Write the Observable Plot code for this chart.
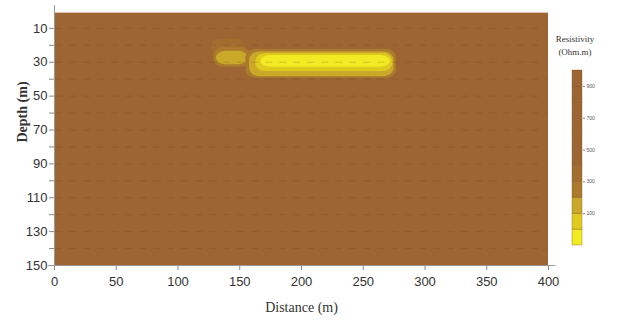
<!DOCTYPE html>
<html>
<head>
<meta charset="utf-8">
<script src="https://cdn.jsdelivr.net/npm/d3@7"></script>
<script src="https://cdn.jsdelivr.net/npm/@observablehq/plot@0.6"></script>
<style>
  html, body { margin: 0; padding: 0; background: #fff; }
  #wrap { position: relative; width: 625px; height: 324px; overflow: hidden; }
  #legend { position: absolute; left: 545px; top: 0; }
  .lt { position: absolute; font-family: "Liberation Serif", "DejaVu Serif", serif; font-size: 9px; color: #333; text-align: center; width: 60px; }
  #main svg g[aria-label$="axis tick label"] text { font-stretch: condensed; }
</style>
</head>
<body>
<div id="wrap">
  <div id="main"></div>
  <div id="legend"></div>
  <div class="lt" style="left:545px; top:34px;">Resistivity</div>
  <div class="lt" style="left:545px; top:47px;">(Ohm.m)</div>
</div>
<script>
// ---- data ----
const distanceTicks = [0, 50, 100, 150, 200, 250, 300, 350, 400];
const depthTicks = [10, 30, 50, 70, 90, 110, 130, 150];
const depthMinorTicks = [20, 40, 60, 80, 100, 120, 140];
const contourRowDepths = [10, 20, 30, 40, 50, 60, 70, 80, 90, 100, 110, 120, 130, 140];

// background section
const sectionFrom = 0, sectionTo = 400, sectionTop = 1, sectionBottom = 150, sectionResistivity = 1000;

// low-resistivity bodies (outer to inner): small western body, then main body
const bodyDistFrom   = [127, 129, 131, 155, 158, 163, 167];
const bodyDistTo     = [155, 159, 157, 277, 275, 274, 272];
const bodyDepthTop   = [16.5, 21.5, 23.5, 22.5, 24, 25, 26];
const bodyDepthBot   = [26, 33, 31.5, 39.5, 38.5, 35.5, 33];
const bodyResistivity= [350, 250, 150, 250, 150, 50, -50];

// legend
const legendBandLow = [-100, 0, 100, 200, 300, 400, 500, 600, 700, 800, 900];
const legendTicks = [100, 300, 500, 700, 900];
const colorThresholds = [0, 100, 200, 300, 400];
const colorRange = ["#f2ea22", "#dfcb1f", "#c9a82a", "#ab7a2d", "#a36d30", "#9d6532"];

// ---- build tables ----
const bodies = bodyDistFrom.map((d, i) => ({
  x1: d, x2: bodyDistTo[i], y1: bodyDepthTop[i], y2: bodyDepthBot[i], r: bodyResistivity[i]
}));
const section = [{x1: sectionFrom, x2: sectionTo, y1: sectionTop, y2: sectionBottom, r: sectionResistivity}];
const bands = legendBandLow.map(lo => ({lo, hi: lo + 100, mid: lo + 50}));

const colorScale = {type: "threshold", domain: colorThresholds, range: colorRange};
const tickFont = "'Liberation Sans Narrow', 'Liberation Sans', 'DejaVu Sans', sans-serif";
const serif = "'Liberation Serif', 'DejaVu Serif', serif";

const main = Plot.plot({
  width: 625, height: 324,
  marginLeft: 54, marginRight: 77, marginTop: 5, marginBottom: 59,
  x: {domain: [0, 400]},
  y: {domain: [-3.5, 150], reverse: true},
  color: colorScale,
  style: {fontFamily: tickFont, fontSize: "13px", background: "transparent", overflow: "visible"},
  marks: [
    Plot.rect(section, {x1: "x1", x2: "x2", y1: "y1", y2: "y2", fill: "r"}),
    Plot.rect(bodies, {x1: "x1", x2: "x2", y1: "y1", y2: "y2", fill: "r", rx: 10, ry: 8}),
    Plot.ruleY(contourRowDepths, {x1: 1, x2: 399, stroke: "#6e4018", strokeOpacity: 0.22, strokeDasharray: "7,7"}),
    Plot.axisX(distanceTicks, {tickSize: 5, tickPadding: 6, label: null, stroke: "#888", fill: "#333"}),
    Plot.axisY(depthTicks, {tickSize: 5, tickPadding: 2, label: null, stroke: "#888", fill: "#333"}),
    Plot.axisY(depthMinorTicks, {tickSize: 5, tickFormat: () => "", label: null, stroke: "#888"}),
    Plot.ruleX([0], {y1: -3.5, y2: 150, stroke: "#999"}),
    Plot.ruleY([150], {x1: -5, x2: 406, stroke: "#999"}),
    Plot.text(["Distance (m)"], {frameAnchor: "bottom", dy: 46, text: d => d, fontFamily: serif, fontSize: 14, fill: "#333"}),
    Plot.text(["Depth (m)"], {frameAnchor: "left", dx: -32, dy: 7, rotate: -90, text: d => d, fontFamily: serif, fontSize: 14, fontWeight: "bold", fill: "#333"})
  ]
});
document.getElementById("main").append(main);

const legend = Plot.plot({
  width: 65, height: 250,
  marginLeft: 27, marginRight: 28, marginTop: 70, marginBottom: 5,
  x: {domain: [0, 1], axis: null},
  y: {domain: [-100, 1000]},
  color: colorScale,
  style: {fontFamily: tickFont, fontSize: "5px", background: "transparent"},
  marks: [
    Plot.rect(bands, {x1: 0, x2: 1, y1: "lo", y2: "hi", fill: "mid", stroke: "#6e4420", strokeOpacity: 0.45, strokeWidth: 0.7}),
    Plot.axisY(legendTicks, {anchor: "right", tickSize: 2, tickPadding: 2, label: null, stroke: "#888", fill: "#555"})
  ]
});
document.getElementById("legend").append(legend);
</script>
</body>
</html>
